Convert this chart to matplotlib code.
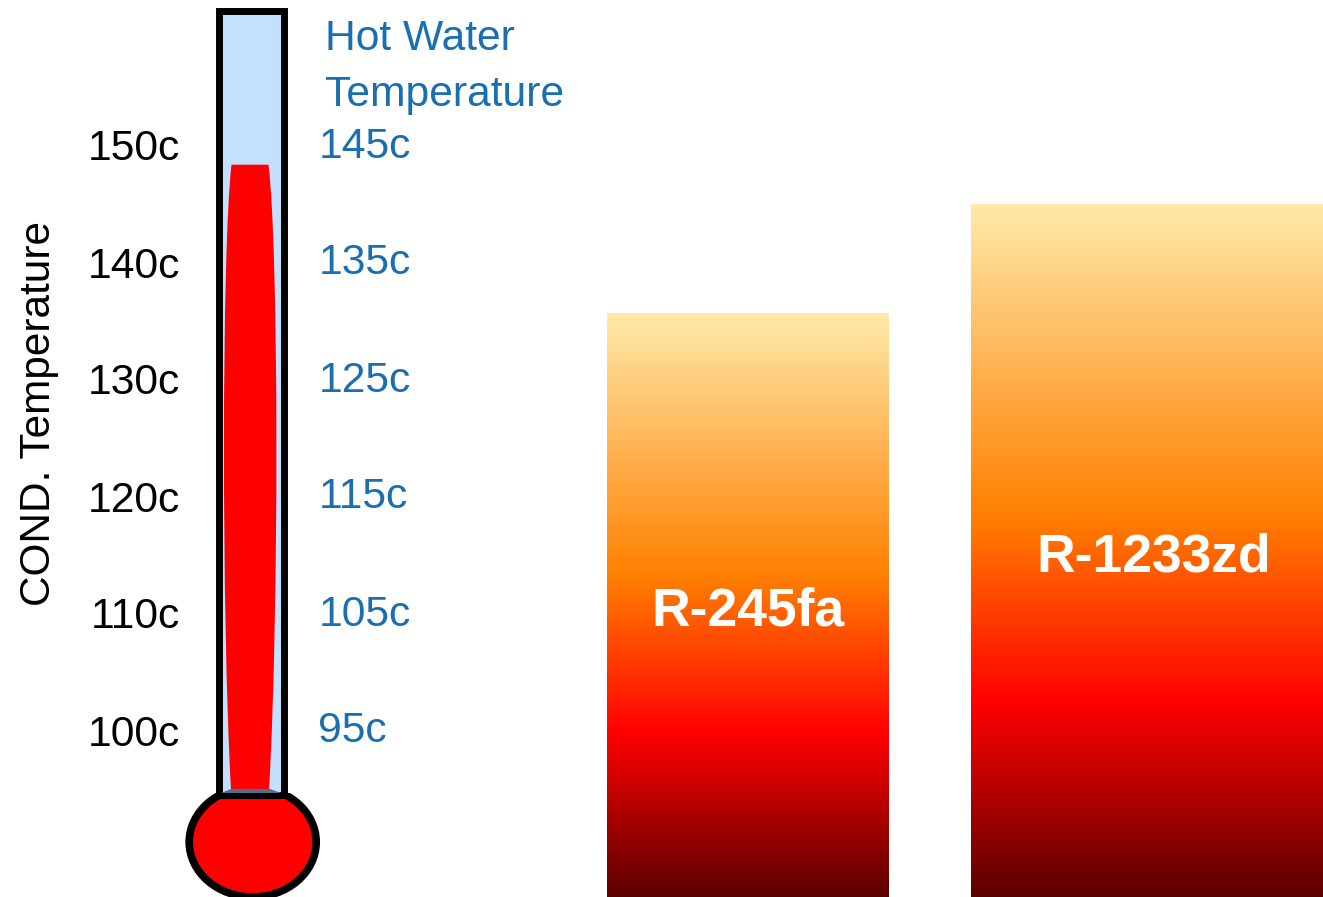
#!/usr/bin/env python
import numpy
import matplotlib
matplotlib.use("Agg")
import matplotlib.pyplot as plt
from matplotlib.colors import LinearSegmentedColormap
from matplotlib.patches import Ellipse, PathPatch, Polygon, Rectangle
from matplotlib.path import Path

cond_temps = [150, 140, 130, 120, 110, 100]
water_temps = [145, 135, 125, 115, 105, 95]
refrigerants = ["R-245fa", "R-1233zd"]
refrigerant_temps = [135.7, 145.0]
mercury_temp = 148.4

plt.rcParams['font.family'] = ['Liberation Sans', 'DejaVu Sans']

BLUE = '#1a6fb0'

# one axes over the whole figure, x in pixels, y in pixels from the top
fig = plt.figure(figsize=(13.23, 8.97), dpi=100)
ax = fig.add_axes([0, 0, 1, 1])
ax.set_axis_off()


def temp_y(temp):
    # 100c sits at y=731, 11.7 pixels per degree
    return 731 - (temp - 100) * 11.7


# refrigerant bars
fade = LinearSegmentedColormap.from_list("fade", [
    (0.0, '#ffe9aa'), (0.45, '#ff8000'), (0.72, '#ff0000'), (1.0, '#5c0000')])
grad = numpy.linspace(0, 1, 256).reshape(-1, 1)
spans = [(607, 889), (971, 1323)]
text_x = [748, 1154]
text_y = [611.5, 558]
for name, temp, (x0, x1), tx, ty in zip(refrigerants, refrigerant_temps, spans, text_x, text_y):
    ax.imshow(grad, cmap=fade, aspect="auto", interpolation="bilinear",
              extent=(x0, x1, 897, temp_y(temp)), zorder=1)
    ax.text(tx, ty, name, color='white', fontsize=38.5, weight='bold',
            ha='center', va='center', zorder=2)

# thermometer tube
ax.add_patch(Rectangle((218.5, 11), 65.5, 784.5, facecolor='#c5e0ff',
                       edgecolor='black', linewidth=5, zorder=2))

# mercury column
top = temp_y(mercury_temp)
mercury = Path([(231.5, top), (268.5, top),
                (279, 250), (279, 620), (269, 790),
                (231, 790),
                (221.5, 620), (221.5, 250), (231.5, top),
                (231.5, top)],
               [Path.MOVETO, Path.LINETO,
                Path.CURVE4, Path.CURVE4, Path.CURVE4,
                Path.LINETO,
                Path.CURVE4, Path.CURVE4, Path.CURVE4,
                Path.CLOSEPOLY])
ax.add_patch(PathPatch(mercury, facecolor='#ff0000', edgecolor='none', zorder=3))
ax.add_patch(Polygon([(221, 793), (231, 789), (270, 789), (281, 793)],
                     facecolor='#4f6f90', edgecolor='none', zorder=4))

# bulb, top of it is hidden behind the tube
bulb = Ellipse((252.7, 842), 127, 110, facecolor='#ff0000',
               edgecolor='black', linewidth=5.5, zorder=5)
ax.add_patch(bulb)
bulb.set_clip_path(Rectangle((150, 793), 210, 110, transform=ax.transData))
ax.add_patch(Rectangle((216, 793), 70, 6, facecolor='black', edgecolor='none', zorder=6))

# temperature scales
for temp in cond_temps:
    ax.text(180, temp_y(temp) + 14.5, f"{temp}c", color='black', fontsize=30.7,
            ha='right', va='baseline')
for temp in water_temps:
    ax.text(318.5, temp_y(temp + 5) + 11.5, f"{temp}c", color=BLUE, fontsize=30.7,
            ha='left', va='baseline')

ax.text(325, 50, "Hot Water", color=BLUE, fontsize=30.7, ha='left', va='baseline')
ax.text(325, 106, "Temperature", color=BLUE, fontsize=30.7, ha='left', va='baseline')
ax.text(39, 414, "COND. Temperature", color='black', fontsize=30.5, rotation=90,
        ha='center', va='center')

ax.set_xlim(0, 1323)
ax.set_ylim(897, 0)

fig.savefig("out.png", dpi=100)
